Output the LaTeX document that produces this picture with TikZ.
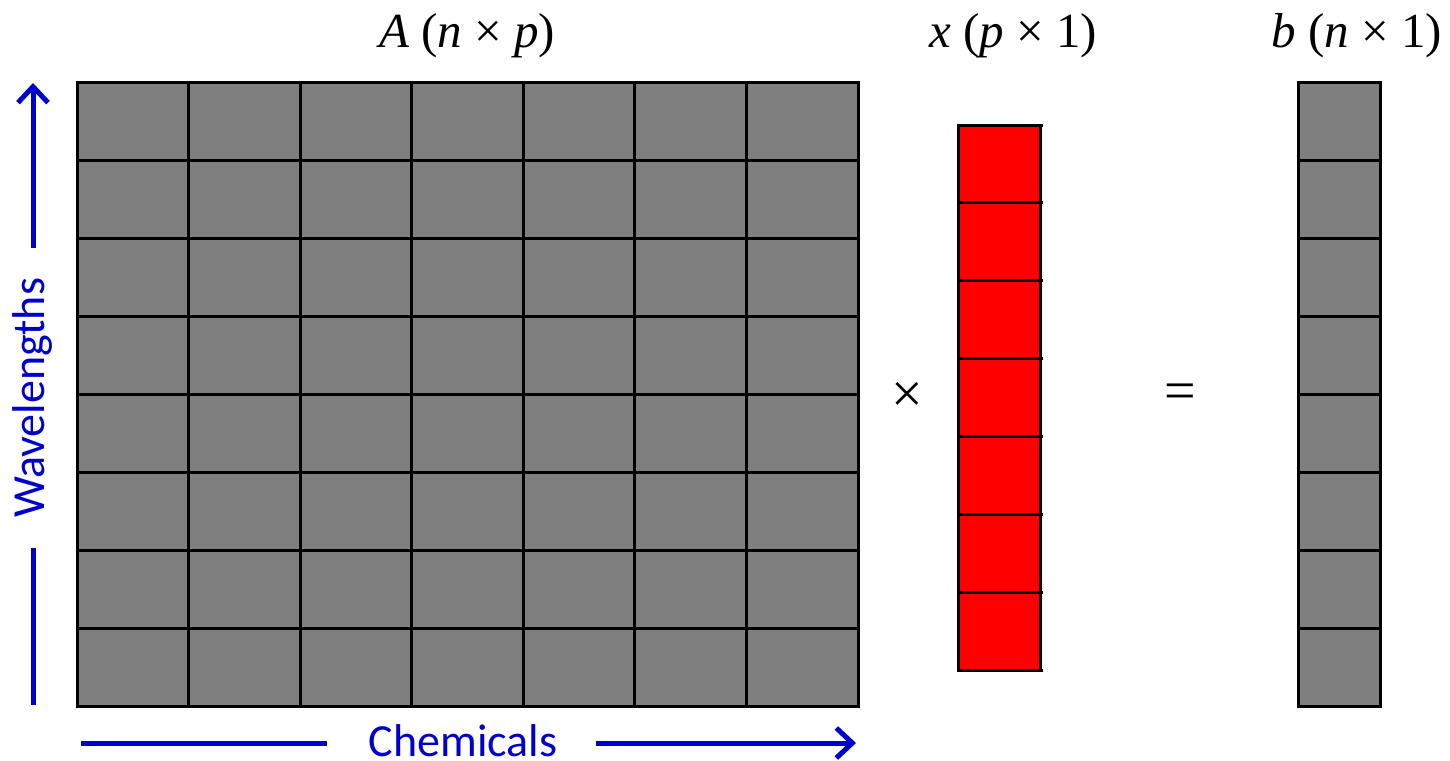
\documentclass[tikz,border=0pt]{standalone}
\usepackage{fontspec}
\setmainfont{Carlito}
\newfontfamily\labelfont{Liberation Serif}
\usetikzlibrary{arrows.meta}
\definecolor{axisblue}{RGB}{0,0,204}
\definecolor{cellgray}{RGB}{127,127,127}
\definecolor{cellred}{RGB}{255,0,0}
\begin{document}
\begin{tikzpicture}[x=1pt,y=-1pt,
  gridline/.style={line width=3pt},
  frame/.style={line width=3pt, line join=miter},
  axis/.style={axisblue, line width=5pt},
  axistip/.style={-{Straight Barb[length=16pt,width=30pt,line width=5pt]}},
  axislabel/.style={text=axisblue, font=\fontsize{46}{50}\selectfont, inner sep=0pt},
  mlabel/.style={font=\labelfont\fontsize{49}{56}\selectfont, inner sep=0pt},
  oplabel/.style={font=\labelfont\fontsize{56}{60}\selectfont, inner sep=0pt},
  baselabel/.style={mlabel, anchor=base}]
\useasboundingbox (0,0) rectangle (1450,760);

% matrix A
\fill[cellgray] (77,82) rectangle (858,706);
\foreach \i in {1,...,6} \draw[gridline] ({77+\i*111.571},82) -- ({77+\i*111.571},706);
\foreach \j in {1,...,7} \draw[gridline] (77,{82+\j*78}) -- (858,{82+\j*78});
\draw[frame] (77,82) rectangle (858,706);

% vector x
\fill[cellred] (958,125) rectangle (1040,670);
\foreach \j in {1,...,6} \draw[gridline] (958,{125+\j*77.857}) -- (1043,{125+\j*77.857});
\draw[frame] (958,125) rectangle (1040,670);
\draw[gridline] (1040,125) -- (1043,125);
\draw[gridline] (1040,670) -- (1043,670);

% vector b
\fill[cellgray] (1298,82) rectangle (1380,706);
\foreach \j in {1,...,7} \draw[gridline] (1298,{82+\j*78}) -- (1380,{82+\j*78});
\draw[frame] (1298,82) rectangle (1380,706);

% labels
\node[baselabel] (Alab) at (467,48) {\itshape A \upshape(\itshape n \upshape× \itshape p\upshape)};
\node[baselabel] (xlab) at (1013,48) {\itshape x \upshape(\itshape p \upshape× 1)};
\node[baselabel] (blab) at (1357,48) {\itshape b \upshape(\itshape n \upshape× 1)};
\node[oplabel] (times) at (907,397) {×};
\node[oplabel] (equals) at (1180,397) {=};

% wavelengths axis
\node[axislabel, rotate=90, anchor=base] (wl) at (44,398) {Wavelengths};
\coordinate (wupstart) at (33,248);
\coordinate (wuptip) at (33,83);
\coordinate (wlowtop) at (33,548);
\coordinate (wlowend) at (33,705);
\draw[axis, axistip] (wupstart) -- (wuptip);
\draw[axis] (wlowtop) -- (wlowend);

% chemicals axis
\node[axislabel, anchor=base] (chem) at (463,756) {Chemicals};
\coordinate (cleft) at (81,743);
\coordinate (cleftend) at (327,743);
\coordinate (crightstart) at (596,743);
\coordinate (crighttip) at (856,743);
\draw[axis] (cleft) -- (cleftend);
\draw[axis, axistip] (crightstart) -- (crighttip);
\end{tikzpicture}
\end{document}
